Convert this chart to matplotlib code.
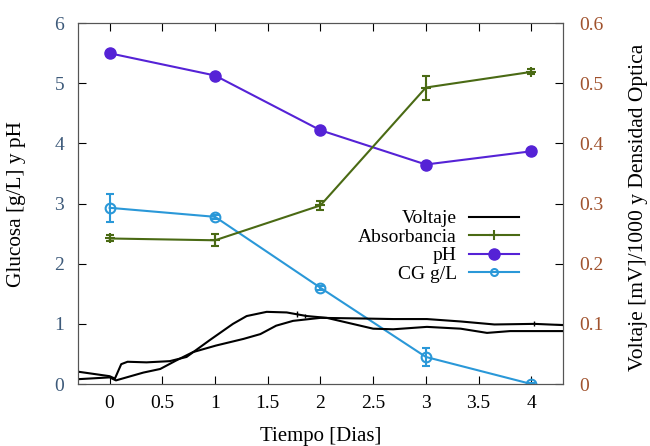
import matplotlib
matplotlib.use("Agg")
from matplotlib import pyplot as plt
from matplotlib.lines import Line2D

plt.rcParams['font.family'] = ['Liberation Serif', 'DejaVu Serif']

# datos medidos (dias)
dias = [0, 1, 2, 3, 4]
ph = [5.50, 5.13, 4.22, 3.65, 3.87]
cg = [2.93, 2.78, 1.60, 0.45, 0.0]
cg_err = [0.23, 0.03, 0.03, 0.15, 0.02]
absorb = [0.242, 0.239, 0.297, 0.493, 0.519]
absorb_err = [0.005, 0.010, 0.008, 0.020, 0.004]

# voltaje [mV]/1000, dos registros
volt_a_t = [-0.30, 0.0, 0.05, 0.11, 0.17, 0.35, 0.57, 0.73, 0.95, 1.17, 1.30,
            1.49, 1.68, 1.87, 2.06, 2.28, 2.50, 2.69, 3.01, 3.33, 3.58, 3.80, 4.30]
volt_a = [0.0205, 0.013, 0.009, 0.033, 0.037, 0.036, 0.038, 0.045, 0.073, 0.100, 0.113,
          0.120, 0.119, 0.113, 0.110, 0.101, 0.092, 0.091, 0.095, 0.092, 0.085, 0.088, 0.088]
volt_b_t = [-0.30, 0.0, 0.06, 0.32, 0.48, 0.63, 0.79, 1.01, 1.27, 1.43, 1.58,
            1.74, 2.00, 2.38, 2.69, 3.01, 3.33, 3.65, 4.03, 4.30]
volt_b = [0.008, 0.011, 0.006, 0.019, 0.025, 0.039, 0.053, 0.064, 0.075, 0.083, 0.097,
          0.105, 0.110, 0.109, 0.108, 0.108, 0.104, 0.099, 0.100, 0.098]
# pocas barras de error sobre el voltaje
volt_err_t = [1.78, 1.85, 4.03]
volt_err_y = [0.117, 0.113, 0.100]
volt_err = [0.005, 0.004, 0.004]

c_ph = '#5522d6'
c_cg = '#2a98d8'
c_abs = '#4a6a14'

fig = plt.figure(figsize=(6.5, 4.46), dpi=100)
ax = fig.add_axes([0.12, 0.139, 0.746, 0.809])
ax2 = ax.twinx()

ax2.plot(volt_a_t, volt_a, color='black', lw=1.5)
ax2.plot(volt_b_t, volt_b, color='black', lw=1.5)
ax2.errorbar(volt_err_t, volt_err_y, yerr=volt_err, fmt='none', ecolor='black', lw=1, capsize=0)
ax2.errorbar(dias, absorb, yerr=absorb_err, color=c_abs, lw=1.5, marker='+',
             ms=7, mew=1.5, capsize=3)
ax.plot(dias, ph, color=c_ph, lw=1.5, marker='o', ms=8)
ax.errorbar(dias, cg, yerr=cg_err, color=c_cg, lw=1.5, marker='o', ms=7,
            mfc='none', mew=1.5, capsize=3)

ax.set_xlim(-0.3, 4.3)
ax.set_ylim(0, 6)
ax2.set_ylim(0, 0.6)
ax.set_xticks([0, 0.5, 1, 1.5, 2, 2.5, 3, 3.5, 4])
ax.set_xticklabels(['0', '0.5', '1', '1.5', '2', '2.5', '3', '3.5', '4'])
ax.set_yticks([0, 1, 2, 3, 4, 5, 6])
ax2.set_yticks([0, 0.1, 0.2, 0.3, 0.4, 0.5, 0.6])
ax2.set_yticklabels(['0', '0.1', '0.2', '0.3', '0.4', '0.5', '0.6'])

ax.tick_params(axis='x', direction='in', top=True, length=6, labelsize=14, pad=8)
ax.tick_params(axis='y', direction='in', length=6, labelsize=14, pad=10, labelcolor='#3d5a7a')
ax2.tick_params(axis='y', direction='in', length=6, labelsize=14, pad=12, labelcolor='#a0522d')
for a in (ax, ax2):
    for s in a.spines.values():
        s.set_color('#555555')

ax.set_xlabel('Tiempo [Dias]', fontsize=15)
ax.xaxis.set_label_coords(0.5, -0.118)
ax.set_ylabel('Glucosa [g/L] y pH', fontsize=15.3)
ax.yaxis.set_label_coords(-0.107, 0.5)
ax2.set_ylabel('Voltaje [mV]/1000 y Densidad Optica', fontsize=15.5)
ax2.yaxis.set_label_coords(1.136, 0.49)

ax2.set_zorder(1)
ax2.patch.set_visible(False)

handles = [Line2D([], [], color='black', lw=1.5),
           Line2D([], [], color=c_abs, lw=1.5, marker='+', ms=7, mew=1.5),
           Line2D([], [], color=c_ph, lw=1.5, marker='o', ms=8),
           Line2D([], [], color=c_cg, lw=1.5, marker='o', ms=5, mfc='none', mew=1.5)]
leg = ax2.legend(handles, ['Voltaje', 'Absorbancia', 'pH', 'CG g/L'],
                 loc='upper right', bbox_to_anchor=(0.93, 0.51), frameon=False,
                 markerfirst=False, fontsize=14, handlelength=2.6, labelspacing=0.05,
                 borderpad=0, handletextpad=0.6)
leg._legend_box.align = 'right'

fig.savefig('out.png', dpi=100)
